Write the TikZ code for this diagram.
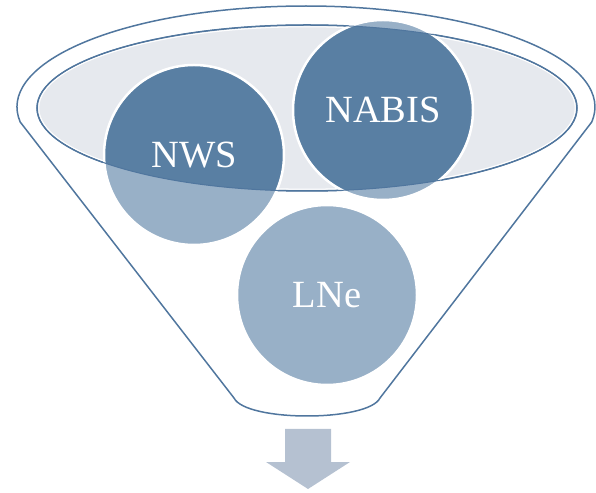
\documentclass[tikz,border=0pt]{standalone}
\usepackage{fontspec}
\setmainfont{Liberation Serif}
\definecolor{funline}{RGB}{80,118,158}
\definecolor{darkblue}{RGB}{89,127,163}
\definecolor{lightblue}{RGB}{152,176,199}
\definecolor{ellgray}{RGB}{230,233,238}
\definecolor{arrowgray}{RGB}{181,193,209}
\tikzset{
  funnelline/.style={draw=funline, line width=1.5pt},
  bubble/.style={circle, minimum size=180pt, inner sep=0pt, draw=white, line width=2.5pt,
    text=white, font=\fontsize{38.5}{40}\selectfont},
}
\begin{document}
\begin{tikzpicture}[x=1pt,y=1pt]
\useasboundingbox (0,0) rectangle (596,492);
% funnel outline
\draw[funnelline, line join=round] (20.2,370) arc[start angle=188.54, end angle=-8.54, x radius=289, y radius=101]
  -- (380,94) .. controls (368,70) and (246,70) .. (234,94) -- cycle;
% inner ellipse
\draw[funnelline, fill=ellgray] (307,384) ellipse[x radius=270, y radius=83];
\draw[white, line width=1pt] (307,384) ellipse[x radius=268.2, y radius=81.2];
% circles light
\fill[lightblue] (194,337) circle[radius=90];
\fill[lightblue] (383,382) circle[radius=90];
\fill[lightblue] (327,197) circle[radius=90];
% dark parts inside the ellipse
\begin{scope}
\clip (307,384) ellipse[x radius=270, y radius=83];
\fill[darkblue] (194,337) circle[radius=90];
\fill[darkblue] (383,382) circle[radius=90];
\end{scope}
% circle nodes with labels
\node[bubble] (nws) at (194,337) {NWS};
\node[bubble] (nabis) at (383,382) {NABIS};
\node[bubble] (lne) at (327,197) {LNe};
% ellipse stroke on top
\draw[funline, line width=1pt] (307,384) ellipse[x radius=270, y radius=83];
% arrow
\fill[arrowgray] (285,63) -- (331,63) -- (331,30) -- (350,30) -- (308,3) -- (266,30) -- (285,30) -- cycle;
\end{tikzpicture}
\end{document}
